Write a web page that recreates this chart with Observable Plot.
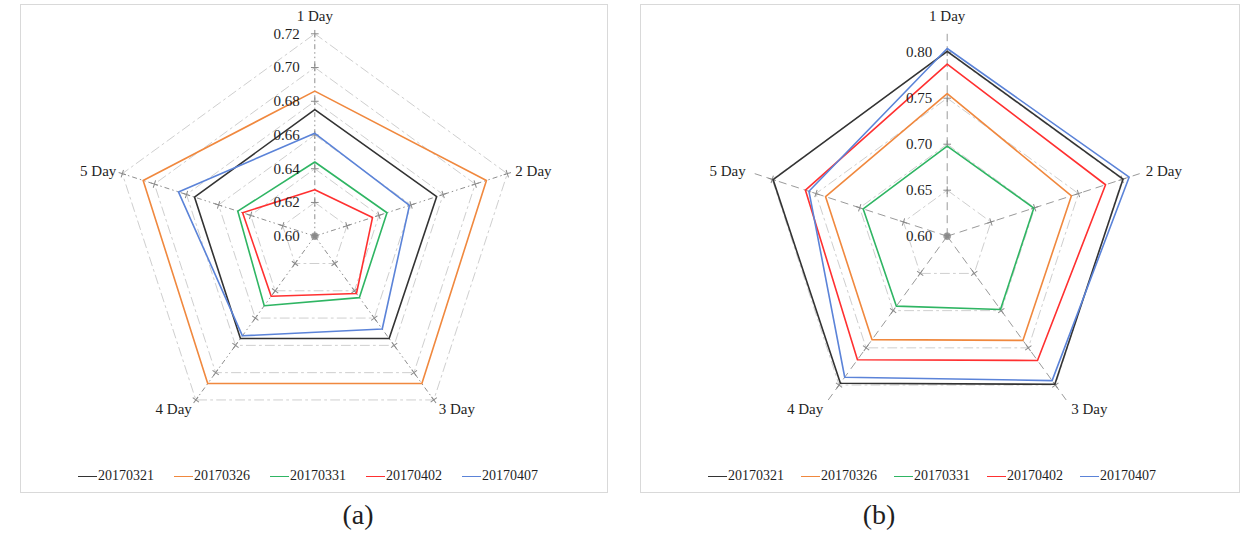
<!DOCTYPE html>
<html>
<head>
<meta charset="utf-8">
<script src="https://cdn.jsdelivr.net/npm/d3@7"></script>
<script src="https://cdn.jsdelivr.net/npm/@observablehq/plot@0.6"></script>
<style>
  body { margin: 0; background: #fff; font-family: "Liberation Serif", "Times New Roman", serif; color: #1f1f1f; }
  #page { position: relative; width: 1250px; height: 533px; overflow: hidden; }
  .panel { position: absolute; top: 4px; height: 489px; border: 1px solid #d9d9d9; box-sizing: border-box; }
  .panel svg { position: absolute; left: 0; top: 0; }
  .legend { position: absolute; top: 462px; display: flex; font-size: 14px; line-height: 18px; }
  .legend .item { display: flex; align-items: center; white-space: nowrap; }
  .legend .sw { display: inline-block; width: 19px; height: 0; border-top: 1.6px solid; margin-right: 1px; }
  .caption { position: absolute; top: 498px; font-size: 28px; line-height: 34px; transform: translateX(-50%); }
</style>
</head>
<body>
<div id="page"></div>
<script>
// Categories and series
const days = ["1 Day", "2 Day", "3 Day", "4 Day", "5 Day"];
const series = ["20170321", "20170326", "20170331", "20170402", "20170407"];
const colors = ["#333333", "#f0883e", "#2fb563", "#ff3030", "#5b83d8"];

// Panel (a) values, one per day
const a20170321 = [0.675, 0.676, 0.675, 0.675, 0.675];
const a20170326 = [0.686, 0.707, 0.708, 0.708, 0.707];
const a20170331 = [0.644, 0.645, 0.645, 0.651, 0.648];
const a20170402 = [0.6275, 0.636, 0.642, 0.644, 0.645];
const a20170407 = [0.661, 0.659, 0.668, 0.673, 0.685];
const aTicks = [0.60, 0.62, 0.64, 0.66, 0.68, 0.70, 0.72];

// Panel (b) values, one per day
const b20170321 = [0.801, 0.801, 0.799, 0.7975, 0.799];
const b20170326 = [0.755, 0.742, 0.740, 0.739, 0.739];
const b20170331 = [0.698, 0.699, 0.6985, 0.694, 0.696];
const b20170402 = [0.787, 0.781, 0.767, 0.766, 0.762];
const b20170407 = [0.804, 0.808, 0.794, 0.7895, 0.758];
const bTicks = [0.60, 0.65, 0.70, 0.75, 0.80];

const page = document.getElementById("page");

function radar(opts) {
  const {left, width, values, min, max, ticks, R, cx, cy, axisDash, axisColor, labelOffsets, legendLeft, legendGap} = opts;
  const H = 455;
  const k = R / (max - min);
  const ang = days.map((d, i) => i * 2 * Math.PI / days.length);
  const pos = (v, i) => ({x: (v - min) * Math.sin(ang[i]), y: (v - min) * Math.cos(ang[i])});

  const rows = [];
  series.forEach((s, j) => values[j].forEach((v, i) => rows.push({series: s, day: days[i], v, ...pos(v, i)})));

  const ringRows = [];
  ticks.filter(t => t > min).forEach(t => days.forEach((d, i) => ringRows.push({ring: t, ...pos(t, i)})));

  const axes = days.map((d, i) => ({x1: 0, y1: 0, x2: pos(max, i).x, y2: pos(max, i).y}));

  const tickMarks = [];
  ticks.forEach(t => days.forEach((d, i) => tickMarks.push({...pos(t, i), rot: ang[i] * 180 / Math.PI})));

  const tickLabels = ticks.map(t => ({label: t.toFixed(2), ...pos(t, 0)}));

  const labelMarks = days.map((d, i) => {
    const o = labelOffsets[i];
    return Plot.text([d], {
      x: () => pos(max, i).x, y: () => pos(max, i).y, text: x => x,
      textAnchor: o.anchor, dx: o.dx, dy: o.dy,
      fontSize: 15, fontFamily: "Liberation Serif", fill: "#1f1f1f"
    });
  });

  const chart = Plot.plot({
    width, height: H, margin: 0,
    style: {fontFamily: "Liberation Serif", background: "transparent", overflow: "visible"},
    x: {domain: [-cx / k, (width - cx) / k], range: [0, width], axis: null},
    y: {domain: [-(H - cy) / k, cy / k], range: [H, 0], axis: null},
    color: {domain: series, range: colors},
    marks: [
      Plot.line(ringRows, {x: "x", y: "y", z: "ring", curve: "linear-closed", stroke: "#cfcfcf", strokeWidth: 1, strokeDasharray: "9,4,2,4"}),
      Plot.link(axes, {x1: "x1", y1: "y1", x2: "x2", y2: "y2", stroke: axisColor, strokeWidth: 1, strokeDasharray: axisDash}),
      Plot.dot(tickMarks, {x: "x", y: "y", symbol: "plus", r: 2.6, stroke: "#8a8a8a", strokeWidth: 1, rotate: "rot"}),
      Plot.line(rows, {x: "x", y: "y", z: "series", stroke: "series", curve: "linear-closed", strokeWidth: 1.6}),
      Plot.text(tickLabels, {x: "x", y: "y", text: "label", textAnchor: "end", dx: -15, fontSize: 15, fontFamily: "Liberation Serif", fill: "#1f1f1f"}),
      ...labelMarks
    ]
  });

  const box = document.createElement("div");
  box.className = "panel";
  box.style.left = left + "px";
  box.style.width = (width + 2) + "px";
  box.appendChild(chart);

  const legend = document.createElement("div");
  legend.className = "legend";
  legend.style.left = legendLeft + "px";
  legend.style.gap = legendGap + "px";
  series.forEach((s, j) => {
    const item = document.createElement("div");
    item.className = "item";
    const sw = document.createElement("span");
    sw.className = "sw";
    sw.style.borderTopColor = colors[j];
    item.appendChild(sw);
    item.appendChild(document.createTextNode(s));
    legend.appendChild(item);
  });
  box.appendChild(legend);
  page.appendChild(box);
}

radar({
  left: 20, width: 586,
  values: [a20170321, a20170326, a20170331, a20170402, a20170407],
  min: 0.60, max: 0.72, ticks: aTicks, R: 202.4, cx: 293.3, cy: 230.7,
  axisDash: "5,3,1.5,3,1.5,3", axisColor: "#8f8f8f",
  labelOffsets: [
    {anchor: "middle", dx: 0, dy: -18},
    {anchor: "start", dx: 8, dy: -2},
    {anchor: "start", dx: 5, dy: 9},
    {anchor: "end", dx: -4, dy: 9},
    {anchor: "end", dx: -6, dy: -2}
  ],
  legendLeft: 57, legendGap: 20
});

radar({
  left: 640, width: 598,
  values: [b20170321, b20170326, b20170331, b20170402, b20170407],
  min: 0.60, max: 0.82, ticks: bTicks, R: 202.4, cx: 305.7, cy: 230.7,
  axisDash: "8,5", axisColor: "#9a9a9a",
  labelOffsets: [
    {anchor: "middle", dx: 0, dy: -18},
    {anchor: "start", dx: 6, dy: -2},
    {anchor: "start", dx: 5, dy: 9},
    {anchor: "end", dx: -5, dy: 9},
    {anchor: "end", dx: -9, dy: -2}
  ],
  legendLeft: 67, legendGap: 17
});

[["(a)", 358], ["(b)", 879]].forEach(([t, x]) => {
  const c = document.createElement("div");
  c.className = "caption";
  c.style.left = x + "px";
  c.textContent = t;
  page.appendChild(c);
});
</script>
</body>
</html>
